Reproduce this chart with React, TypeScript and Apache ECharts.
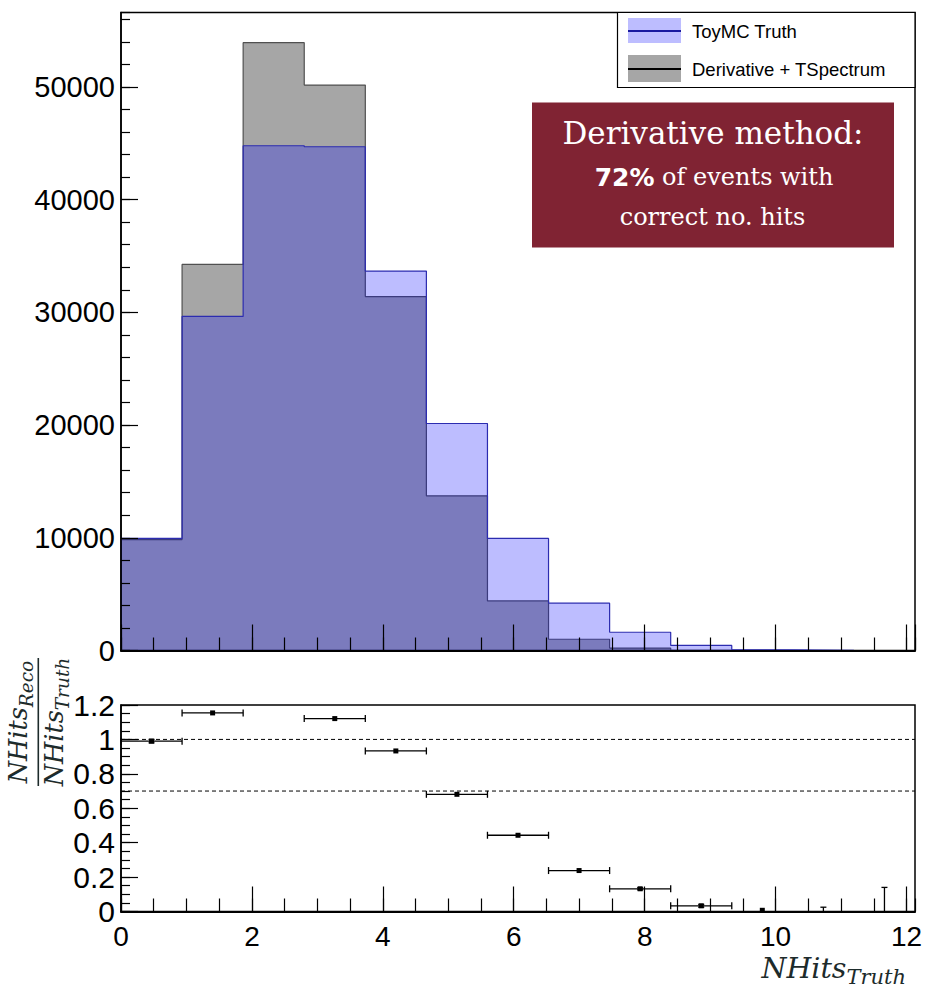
import React, { useEffect, useRef } from 'react';
import * as echarts from 'echarts';

// ---------- data ----------
const xRange = [0, 12.13];
const nBins = 13;
const truthCounts = [9940, 29640, 44780, 44690, 33660, 20140, 9940, 4200, 1620, 450, 60, 10, 1];
const recoCounts = [9840, 34250, 53920, 50160, 31400, 13720, 4400, 1000, 214, 15, 0.4, 0, 0];
const ratioValues = [0.99, 1.154, 1.204, 1.121, 0.933, 0.681, 0.443, 0.238, 0.132, 0.033, 0.007, 0, 0];
const ratioErrors = [0.01, 0.003, 0.003, 0.003, 0.003, 0.003, 0.004, 0.004, 0.006, 0.008, 0.003, 0.025, 0.14];
const refLines = [1.0, 0.7];
const topYMax = 56600;
const ratioYMax = 1.2;

const binW = (xRange[1] - xRange[0]) / nBins;
const stepData = (vals: number[]) => {
  const d = vals.map((v, i) => [xRange[0] + i * binW, v]);
  d.push([xRange[1], vals[vals.length - 1]]);
  return d;
};

const SANS = 'Liberation Sans, Arial, sans-serif';
const SERIF = 'DejaVu Serif, serif';
const TITLE_COLOR = '#1d2b2b';
const plain = (v: number) => String(Math.round(v * 1000) / 1000);

export default function App() {
  const ref = useRef<HTMLDivElement>(null);
  useEffect(() => {
    const chart = echarts.init(ref.current!, null, { renderer: 'svg' });

    const tick = { show: true, inside: true, lineStyle: { color: '#000', width: 1.2 } };
    const noSplit = { show: false };

    const xAx = (grid: number, interval: number, len: number, main: boolean, labels: boolean) => ({
      gridIndex: grid, type: 'value', position: 'bottom', offset: 0, min: xRange[0], max: xRange[1], interval, z: 5,
      axisLine: main ? { show: true, onZero: false, lineStyle: { color: '#000', width: 2 } } : { show: false, onZero: false },
      axisTick: { ...tick, length: len },
      axisLabel: labels
        ? { show: true, showMaxLabel: false, fontSize: 28, fontFamily: SANS, color: '#000', margin: 11, formatter: plain }
        : { show: false },
      splitLine: noSplit,
    });
    const yAx = (grid: number, max: number, interval: number, len: number, main: boolean, fs: number) => ({
      gridIndex: grid, type: 'value', position: 'left', offset: 0, min: 0, max, interval, z: 5,
      axisLine: main ? { show: true, onZero: false, lineStyle: { color: '#000', width: 1.5 } } : { show: false, onZero: false },
      axisTick: { ...tick, length: len },
      axisLabel: main
        ? { show: true, showMaxLabel: max !== ratioYMax ? false : true, fontSize: fs, fontFamily: SANS, color: '#000', margin: 6, formatter: plain }
        : { show: false },
      splitLine: noSplit,
    });

    const option: any = {
      animation: false,
      backgroundColor: '#fff',
      grid: [
        { left: 121, top: 12.5, width: 794, height: 638, show: true, borderColor: '#000', borderWidth: 1.5, backgroundColor: 'transparent', containLabel: false, outerBoundsMode: 'none' },
        { left: 121, top: 705, width: 794, height: 206.5, show: true, borderColor: '#000', borderWidth: 1.5, backgroundColor: 'transparent', containLabel: false, outerBoundsMode: 'none' },
      ],
      xAxis: [
        xAx(0, 2, 26, true, false),
        xAx(0, 0.5, 13, false, false),
        xAx(1, 2, 25, true, true),
        xAx(1, 0.5, 13, false, false),
      ],
      yAxis: [
        yAx(0, topYMax, 10000, 17, true, 29),
        yAx(0, topYMax, 2000, 9, false, 29),
        yAx(1, ratioYMax, 0.2, 17, true, 30),
        yAx(1, ratioYMax, 0.05, 9, false, 30),
      ],
      series: [
        { type: 'line', name: 'Derivative + TSpectrum', xAxisIndex: 0, yAxisIndex: 0, data: stepData(recoCounts),
          step: 'end', symbol: 'none', silent: true, z: 2,
          lineStyle: { color: '#505050', width: 1.2 }, areaStyle: { color: 'rgba(0,0,0,0.35)', opacity: 1 } },
        { type: 'line', name: 'ToyMC Truth', xAxisIndex: 0, yAxisIndex: 0, data: stepData(truthCounts),
          step: 'end', symbol: 'none', silent: true, z: 3,
          lineStyle: { color: '#2c2cb0', width: 1.2 }, areaStyle: { color: 'rgba(0,0,255,0.26)', opacity: 1 } },
        ...refLines.map((v) => ({
          type: 'line', xAxisIndex: 2, yAxisIndex: 2, data: [[xRange[0], v], [xRange[1], v]], symbol: 'none', silent: true, z: 2,
          lineStyle: { color: '#000', width: 1, type: [4, 3] },
        })),
        { type: 'custom', name: 'Ratio', xAxisIndex: 2, yAxisIndex: 2, z: 4, silent: true,
          data: ratioValues.map((r, i) => [xRange[0] + (i + 0.5) * binW, r, ratioErrors[i]]),
          encode: { x: 0, y: 1 },
          renderItem: (params: any, api: any) => {
            const xc = api.value(0), r = api.value(1), e = api.value(2);
            if (r > ratioYMax) return { type: 'group', children: [] };
            const children: any[] = [];
            const st = { stroke: '#000', lineWidth: 1.3 };
            const c = api.coord([xc, r]);
            if (r > 0.02) {
              const l = api.coord([xc - binW / 2, r]);
              const h = api.coord([xc + binW / 2, r]);
              children.push({ type: 'line', shape: { x1: l[0], y1: l[1], x2: h[0], y2: h[1] }, style: st });
              children.push({ type: 'line', shape: { x1: l[0], y1: l[1] - 3.5, x2: l[0], y2: l[1] + 3.5 }, style: st });
              children.push({ type: 'line', shape: { x1: h[0], y1: h[1] - 3.5, x2: h[0], y2: h[1] + 3.5 }, style: st });
            }
            const top = Math.min(r + e, ratioYMax);
            const bot = Math.max(r - e, 0);
            const pt = api.coord([xc, top]);
            const pb = api.coord([xc, bot]);
            children.push({ type: 'line', shape: { x1: pt[0], y1: pt[1], x2: pb[0], y2: pb[1] }, style: st });
            if (e > 0.005) {
              children.push({ type: 'line', shape: { x1: pt[0] - 3, y1: pt[1], x2: pt[0] + 3, y2: pt[1] }, style: st });
              if (r - e > 0) children.push({ type: 'line', shape: { x1: pb[0] - 3, y1: pb[1], x2: pb[0] + 3, y2: pb[1] }, style: st });
            }
            if (r > 0) {
              children.push({ type: 'rect', shape: { x: c[0] - 2.5, y: c[1] - 2.5, width: 5, height: 5 }, style: { fill: '#000' } });
            }
            return { type: 'group', children };
          } },
      ],
      graphic: [
        // legend
        { type: 'rect', shape: { x: 617.5, y: 12.5, width: 297.5, height: 75 }, style: { fill: '#fff', stroke: '#000', lineWidth: 1.2 }, z: 10 },
        { type: 'rect', shape: { x: 628, y: 18, width: 53, height: 25 }, style: { fill: 'rgba(0,0,255,0.26)' }, z: 11 },
        { type: 'line', shape: { x1: 628, y1: 31, x2: 681, y2: 31 }, style: { stroke: '#1a1aa0', lineWidth: 2 }, z: 12 },
        { type: 'rect', shape: { x: 628, y: 55, width: 53, height: 27 }, style: { fill: '#a6a6a6' }, z: 11 },
        { type: 'line', shape: { x1: 628, y1: 69, x2: 681, y2: 69 }, style: { stroke: '#000', lineWidth: 2 }, z: 12 },
        { type: 'text', x: 692, y: 31, style: { text: 'ToyMC Truth', fontSize: 18.5, fontFamily: SANS, fill: '#000', verticalAlign: 'middle' }, z: 12 },
        { type: 'text', x: 692, y: 69, style: { text: 'Derivative + TSpectrum', fontSize: 18.5, fontFamily: SANS, fill: '#000', verticalAlign: 'middle' }, z: 12 },
        // annotation box
        { type: 'rect', shape: { x: 532, y: 102.5, width: 362, height: 145 }, style: { fill: '#802333' }, z: 10 },
        { type: 'text', x: 713, y: 132.5, style: { text: 'Derivative method:', fontSize: 31, fontFamily: SERIF, fill: '#fff', align: 'center', verticalAlign: 'middle' }, z: 11 },
        { type: 'text', x: 714, y: 177, style: {
            text: '{b|72%}{s| of events with}', align: 'center', verticalAlign: 'middle', fill: '#fff',
            rich: { b: { fontSize: 25, fontWeight: 'bold', fontFamily: 'DejaVu Sans, sans-serif', fill: '#fff' },
                    s: { fontSize: 24, fontFamily: SERIF, fill: '#fff' } } }, z: 11 },
        { type: 'text', x: 712.5, y: 216.5, style: { text: 'correct no. hits', fontSize: 24, fontFamily: SERIF, fill: '#fff', align: 'center', verticalAlign: 'middle' }, z: 11 },
        // x axis title
        { type: 'text', x: 906, y: 968, style: {
            text: '{m|NHits}{s|Truth}', align: 'right', verticalAlign: 'middle', fill: TITLE_COLOR,
            rich: { m: { fontSize: 28.5, fontStyle: 'italic', fontFamily: SERIF, fill: TITLE_COLOR },
                    s: { fontSize: 21, fontStyle: 'italic', fontFamily: SERIF, fill: TITLE_COLOR, padding: [18, 0, 0, 0] } } }, z: 11 },
        // ratio y title (fraction, rotated)
        { type: 'group', x: 38.3, y: 722, rotation: Math.PI / 2, z: 11, children: [
          { type: 'text', x: 0, y: -20, style: {
              text: '{m|NHits}{s|Reco}', align: 'center', verticalAlign: 'middle', fill: TITLE_COLOR,
              rich: { m: { fontSize: 25.5, fontStyle: 'italic', fontFamily: SERIF, fill: TITLE_COLOR },
                      s: { fontSize: 18.5, fontStyle: 'italic', fontFamily: SERIF, fill: TITLE_COLOR, padding: [16, 0, 0, 0] } } } },
          { type: 'line', shape: { x1: -64, y1: 0, x2: 64, y2: 0 }, style: { stroke: TITLE_COLOR, lineWidth: 1.6 } },
          { type: 'text', x: 0, y: 16, style: {
              text: '{m|NHits}{s|Truth}', align: 'center', verticalAlign: 'middle', fill: TITLE_COLOR,
              rich: { m: { fontSize: 25.5, fontStyle: 'italic', fontFamily: SERIF, fill: TITLE_COLOR },
                      s: { fontSize: 18.5, fontStyle: 'italic', fontFamily: SERIF, fill: TITLE_COLOR, padding: [16, 0, 0, 0] } } } },
        ] },
      ],
    };
    chart.setOption(option);
    return () => chart.dispose();
  }, []);
  return <div ref={ref} style={{ position: 'fixed', left: 0, top: 0, width: 926, height: 990, background: '#fff' }} />;
}
